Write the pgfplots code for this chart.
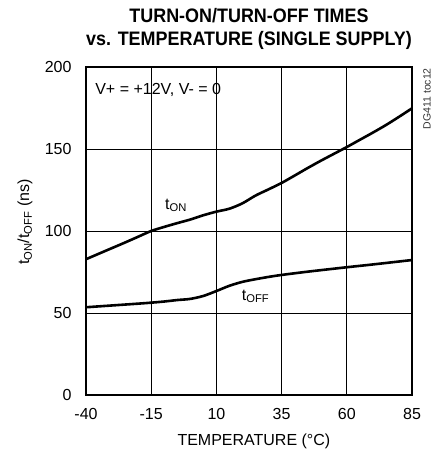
\documentclass[border=0pt]{standalone}
\usepackage{fontspec}
\setmainfont{Liberation Sans}
\newfontfamily\titlefont{Liberation Sans}[FakeStretch=0.92]
\usepackage{pgfplots}
\pgfplotsset{compat=1.18}

\begin{document}
\begin{tikzpicture}
\begin{axis}[
    scale only axis,
    width=326pt, height=328pt,
    xmin=-40, xmax=85, ymin=0, ymax=200,
    xtick={-40,-15,10,35,60,85},
    ytick={0,50,100,150,200},
    grid=major,
    major grid style={black, line width=0.8pt},
    axis line style={line width=2.2pt},
    major tick length=0pt,
    /pgf/number format/assume math mode=true,
    ticklabel style={font=\fontsize{16}{18}\selectfont},
    xticklabel style={yshift=-10pt},
    yticklabel style={xshift=-11pt},
    xlabel={TEMPERATURE (°C)},
    ylabel={t\textsubscript{ON}/t\textsubscript{OFF} (ns)},
    label style={font=\fontsize{16}{18}\selectfont},
    xlabel style={at={(axis description cs:0.515,-0.142)}, anchor=center},
    ylabel style={at={(axis description cs:-0.187,0.527)}, anchor=center},
    title={TURN-ON/TURN-OFF TIMES\\vs. TEMPERATURE (SINGLE SUPPLY)},
    title style={font=\titlefont\fontsize{19.5}{22.5}\selectfont\bfseries, align=center, yshift=8pt},
    clip=false,
]
\addplot[black, line width=2.6pt, smooth] coordinates {
(-40,82.8) (-35,86.2) (-30,89.6) (-25,93) (-20,96.5) (-15,100) (-10,102.5)
(-5,104.8) (0,107) (5,109.6) (10,111.8) (15,113.6) (20,116.9) (25,121.6)
(30,125.4) (35,129.3) (40,133.8) (45,138.4) (50,142.8) (55,147) (60,151.2)
(65,155.6) (70,160) (75,164.6) (80,169.6) (85,174.8)
};
\addplot[black, line width=2.6pt, smooth] coordinates {
(-40,53.5) (-30,54.6) (-20,55.7) (-15,56.3) (-10,57) (-5,57.9) (0,58.6)
(5,60.4) (10,63.4) (15,66.6) (20,69) (25,70.6) (30,72) (35,73.2) (45,75.2)
(60,77.9) (70,79.6) (85,82.3)
};
\node[anchor=base west, font=\fontsize{16}{18}\selectfont, inner sep=0pt] at (axis cs:-9.7,113.4) {t\textsubscript{ON}};
\node[anchor=base west, font=\fontsize{16}{18}\selectfont, inner sep=0pt] at (axis cs:19.7,57.9) {t\textsubscript{OFF}};
\node[anchor=west, font=\fontsize{16}{18}\selectfont, inner sep=0pt] at (axis cs:-36.5,186) {V+ = +12V, V- = 0};
\node[rotate=90, anchor=east, font=\fontsize{10.5}{12}\selectfont, inner sep=0pt, text=black!80] at ([xshift=15pt,yshift=-1pt]current axis.north east) {DG411 toc12};
\end{axis}
\pgfresetboundingbox
\useasboundingbox ([xshift=-86pt,yshift=-62pt]current axis.south west) rectangle ++(433pt,457pt);
\end{tikzpicture}
\end{document}
